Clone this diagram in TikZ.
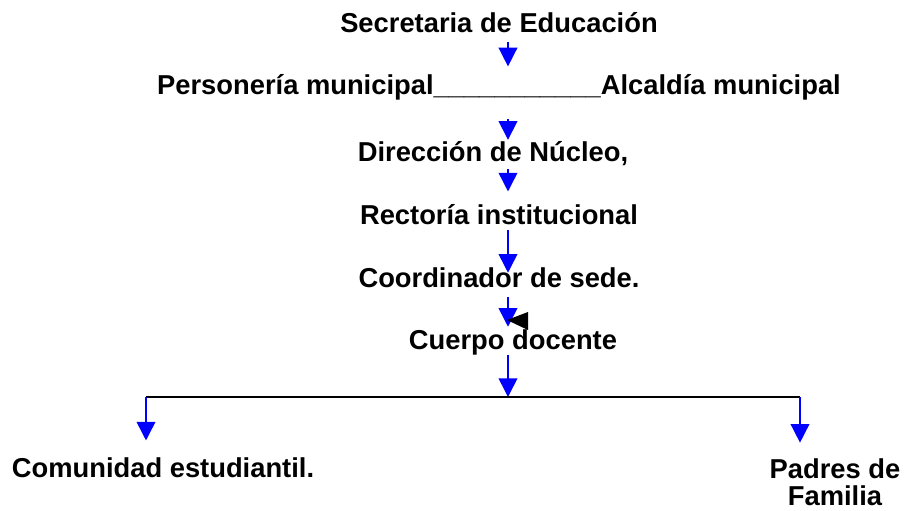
\documentclass[tikz,border=0pt]{standalone}
\usepackage{fontspec}
\setmainfont{Liberation Sans}
\definecolor{orBlue}{HTML}{0000FF}
\definecolor{orText}{HTML}{000000}
\usetikzlibrary{calc,arrows.meta}

\tikzset{
  cargo/.style={font=\fontsize{20.5}{21}\selectfont\bfseries, text=orText, inner sep=0pt, text height=14pt, text depth=4pt, anchor=base},
  flecha/.style={draw=orBlue, line width=1.2pt, -{Triangle[length=14pt, width=14pt]}, orBlue}
}

\begin{document}
\begin{tikzpicture}[x=0.75pt, y=-0.75pt]
  \useasboundingbox (0,0) rectangle (905,510);
  \coordinate (eje) at (508,0);
  \node[cargo] (sec) at (499,33) {Secretaria de Educación};
  \node[cargo] (pers) at (499,94) {Personería municipal\_\_\_\_\_\_\_\_\_\_\_Alcaldía municipal};
  \node[cargo] (dir) at (493,161) {Dirección de Núcleo,};
  \node[cargo] (rec) at (499,224) {Rectoría institucional};
  \node[cargo] (sede) at (499,287) {Coordinador de sede.};
  \node[cargo] (cuerpo) at (513,349) {Cuerpo docente};
  \node[cargo] (com) at (163,477) {Comunidad estudiantil.};
  \node[font=\fontsize{20.5}{20.5}\selectfont\bfseries, text=orText, inner sep=0pt, align=center, anchor=north] (padres) at (835,458) {Padres de\\Familia};
  \coordinate (izq) at (146,397);
  \coordinate (der) at (800,397);

  % cadena central
  \draw[flecha, shorten <=2.5pt, shorten >=6.5pt] (sec.south -| eje) -- (pers.north -| eje);
  \draw[flecha, shorten <=14.8pt, shorten >=1.7pt] (pers.south -| eje) -- (dir.north -| eje);
  \draw[flecha, shorten <=2pt, shorten >=10.2pt] (dir.south -| eje) -- (rec.north -| eje);
  \draw[flecha, shorten >=-3.5pt] (rec.south -| eje) -- (sede.north -| eje);
  \draw[flecha, shorten <=3.5pt, shorten >=2.5pt] (sede.south -| eje) -- (cuerpo.north -| eje);
  \fill[orText] (507,320) -- (528,312) -- (528,330) -- cycle;
  \draw[flecha] (cuerpo.south -| eje) -- (izq -| eje);

  % ramas
  \draw[orText, line width=1.1pt] (izq) -- (der);
  \draw[flecha, shorten >=13.2pt] (izq) -- (com.north -| izq);
  \draw[flecha, shorten >=11.5pt] (der) -- (padres.north -| der);
\end{tikzpicture}
\end{document}
